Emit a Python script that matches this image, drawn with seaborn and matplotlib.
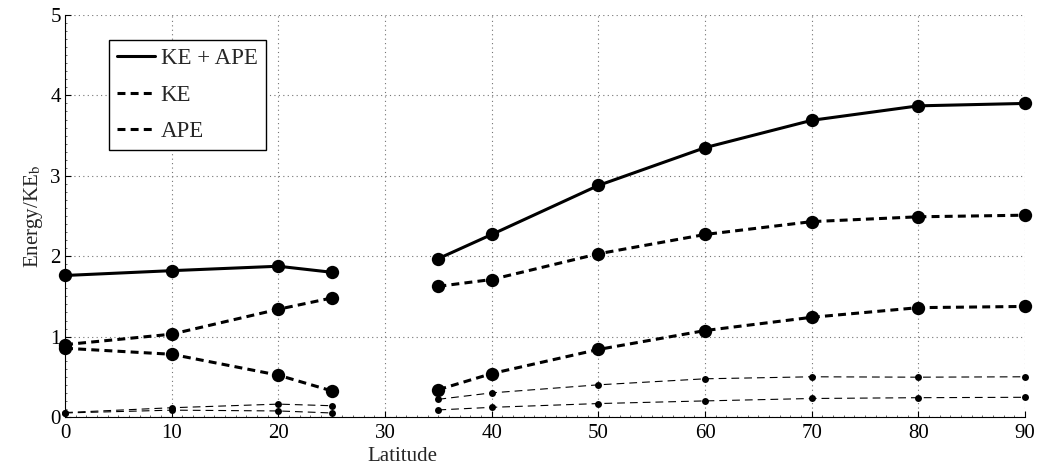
import numpy as np
import pandas as pd
import seaborn as sns
import matplotlib
matplotlib.use("Agg")
import matplotlib.pyplot as plt
from matplotlib.lines import Line2D
from matplotlib.ticker import MultipleLocator

# Latitudes of the two runs (gap between 25 and 35)
lat_low = [0, 10, 20, 25]
lat_high = [35, 40, 50, 60, 70, 80, 90]

# Energies normalised by KE_b
total_low = [1.76, 1.82, 1.875, 1.80]
total_high = [1.97, 2.27, 2.88, 3.35, 3.69, 3.87, 3.90]
ke_low = [0.90, 1.03, 1.34, 1.48]
ke_high = [1.625, 1.71, 2.03, 2.27, 2.43, 2.49, 2.51]
ape_low = [0.855, 0.78, 0.52, 0.325]
ape_high = [0.34, 0.54, 0.84, 1.075, 1.24, 1.36, 1.375]

# Secondary (reference) curves
ref_a_low = [0.055, 0.115, 0.16, 0.14]
ref_a_high = [0.22, 0.30, 0.40, 0.475, 0.50, 0.495, 0.50]
ref_b_low = [0.05, 0.085, 0.075, 0.05]
ref_b_high = [0.088, 0.12, 0.167, 0.20, 0.23, 0.24, 0.245]

legend_labels = ["KE + APE", "KE", "APE"]
xticks = list(range(0, 91, 10))
yticks = list(range(0, 6))

sns.set_style("ticks")
plt.rcParams["font.family"] = ["Liberation Serif", "DejaVu Serif"]
plt.rcParams["mathtext.fontset"] = "stix"

fig = plt.figure(figsize=(10.39, 4.70), dpi=100)
ax = fig.add_axes([0.0626, 0.1128, 0.9240, 0.8553])

thick = dict(color="black", lw=2.2, marker="o", markersize=9.6,
             markeredgewidth=0, legend=False)
thin = dict(color="black", lw=0.8, marker="o", markersize=5.0,
            markeredgewidth=0, legend=False)

def draw(lows, highs, style, dashes=None):
    for xs, ys in ((lat_low, lows), (lat_high, highs)):
        df = pd.DataFrame({"Latitude": xs, "Energy": ys})
        line_ax = sns.lineplot(data=df, x="Latitude", y="Energy", ax=ax, **style)
        if dashes is not None:
            line_ax.lines[-1].set_dashes(dashes)

draw(ref_a_low, ref_a_high, thin, (7, 4.5))
draw(ref_b_low, ref_b_high, thin, (7, 4.5))
draw(total_low, total_high, thick)
draw(ke_low, ke_high, thick, (2.6, 1.7))
draw(ape_low, ape_high, thick, (2.6, 1.7))

for ln in ax.lines:
    ln.set_clip_on(False)

ax.set_xlim(0, 90)
ax.set_ylim(0, 5)
ax.set_xticks(xticks)
ax.set_yticks(yticks)
ax.xaxis.set_minor_locator(MultipleLocator(1))
ax.yaxis.set_minor_locator(MultipleLocator(0.1))
ax.tick_params(which="major", direction="in", length=4, width=0.8,
               labelsize=15, colors="black")
ax.tick_params(axis="x", which="major", pad=5)
ax.tick_params(axis="y", which="major", pad=3)
ax.tick_params(which="minor", direction="in", length=1.6, width=0.5)
ax.grid(True, which="major", linestyle=(0, (1, 3)), color="0.45", lw=0.8)
ax.set_axisbelow(True)
for side in ("top", "right"):
    ax.spines[side].set_visible(False)
for side in ("left", "bottom"):
    ax.spines[side].set_linewidth(0.8)
    ax.spines[side].set_color("black")

ax.set_xlabel("Latitude", fontsize=15, va="center")
ax.xaxis.set_label_coords(0.351, -0.0995)
ax.set_ylabel("Energy/KE$_\\mathrm{b}$", fontsize=15, labelpad=4)

handles = [
    Line2D([], [], color="black", lw=2.2),
    Line2D([], [], color="black", lw=2.2, dashes=(2.6, 1.7)),
    Line2D([], [], color="black", lw=2.2, dashes=(2.6, 1.7)),
]
leg = ax.legend(handles, legend_labels, loc="upper left",
                bbox_to_anchor=(0.046, 0.938), borderaxespad=0,
                fontsize=16.5, handlelength=1.65, handletextpad=0.25,
                labelspacing=0.68, borderpad=0.35, fancybox=False,
                framealpha=1, edgecolor="black")
leg.get_frame().set_linewidth(1.0)

fig.savefig("out.png", dpi=100)
